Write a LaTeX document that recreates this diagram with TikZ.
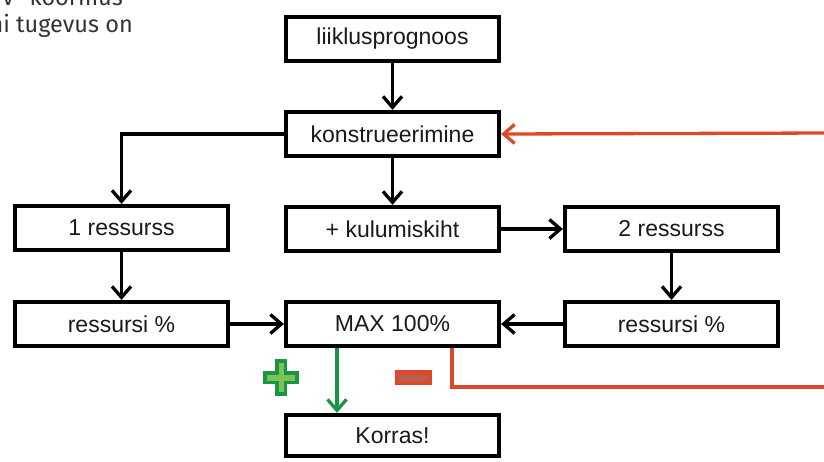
\documentclass[tikz,border=0pt]{standalone}
\usepackage{fontspec}
\setmainfont{Liberation Sans}
\newfontfamily\pagefont{Fira Sans}
\usetikzlibrary{arrows.meta}
\definecolor{minusred}{RGB}{222,72,42}
\definecolor{plusgreen}{RGB}{24,150,70}
\definecolor{pluslight}{RGB}{125,192,85}
\tikzset{
  stepbox/.style={draw,line width=4.2pt,minimum width=213pt,minimum height=44pt,inner sep=0pt,
    font=\fontsize{23}{27}\selectfont,text=black!90},
  flow/.style={line width=3.3pt,-{Straight Barb[length=11pt,width=19pt,line width=3.3pt]}},
  pagetext/.style={anchor=base east,inner sep=0pt,font=\pagefont\fontsize{23.5}{27}\selectfont,text=black!80},
}
\begin{document}
\begin{tikzpicture}[x=1pt,y=-1pt]
\clip (0,0) rectangle (824,461);
\node[pagetext] (txta) at (123,5) {iv” koormus};
\node[pagetext] (txtb) at (133,32) {ni tugevus on};
\node[stepbox] (prognoos) at (392.5,39) {liiklusprognoos};
\node[stepbox] (konstr) at (392.5,134) {konstrueerimine};
\node[stepbox] (res1) at (121.5,228) {1 ressurss};
\node[stepbox] (kulum) at (392.5,229) {+ kulumiskiht};
\node[stepbox] (res2) at (671.5,229) {2 ressurss};
\node[stepbox] (pct1) at (121.5,324) {ressursi \%};
\node[stepbox] (maxp) at (392.5,324) {MAX 100\%};
\node[stepbox] (pct2) at (671.5,324) {ressursi \%};
\node[stepbox,minimum height=41pt] (korras) at (392.5,435.5) {Korras!};
\draw[flow] (prognoos) -- (konstr);
\draw[flow] (konstr) -- (kulum);
\draw[flow] (konstr.west) -| (res1.north);
\draw[flow] (res1) -- (pct1);
\draw[flow] (kulum) -- (res2);
\draw[flow] (res2) -- (pct2);
\draw[flow] (pct1) -- (maxp);
\draw[flow] (pct2) -- (maxp);
\draw[flow,draw=plusgreen] ([xshift=-55.5pt]maxp.south) -- ([xshift=-55.5pt]korras.north);
\coordinate (back1) at (830,387);
\coordinate (back2) at (830,133);
\draw[line width=3.3pt,draw=minusred] ([xshift=59.5pt]maxp.south) |- (back1);
\draw[flow,draw=minusred] (back2) -- (konstr.east);
\fill[plusgreen] (263,371) rectangle (299,384);
\fill[plusgreen] (275,359) rectangle (287,396);
\fill[pluslight] (267,374.5) rectangle (295,380.5);
\fill[pluslight] (278.5,363) rectangle (283.5,392);
\fill[minusred] (395,370) rectangle (432,385);
\fill[minusred!55!gray] (399,374.5) rectangle (428,380.5);
\end{tikzpicture}
\end{document}
